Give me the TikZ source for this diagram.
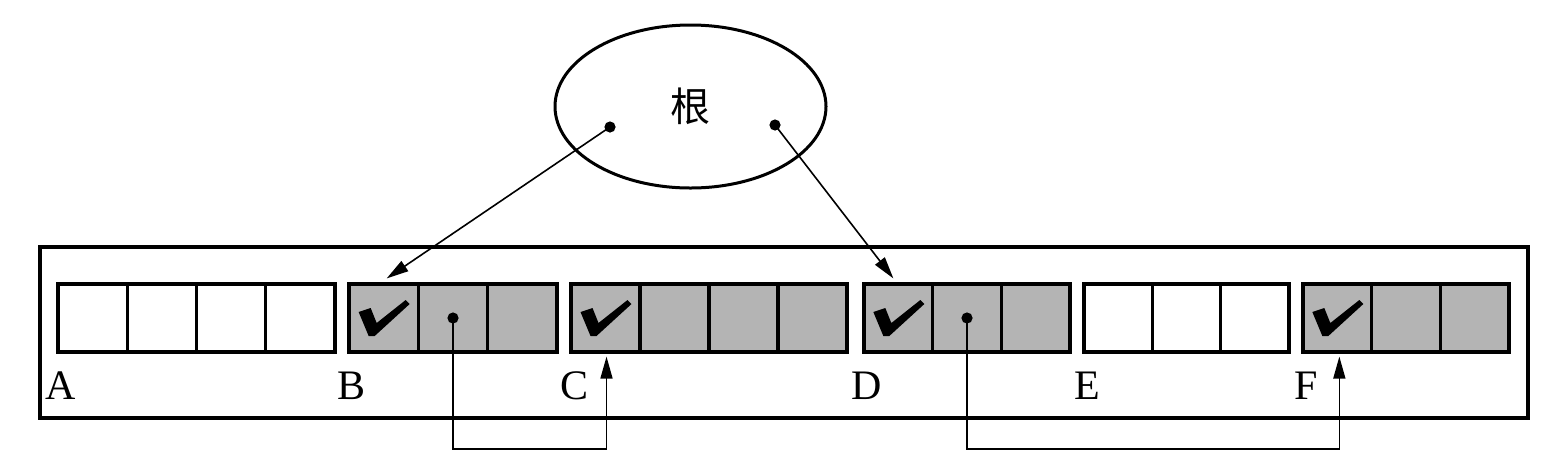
\documentclass[tikz,border=0pt]{standalone}
\usepackage{fontspec}
\setmainfont{Liberation Serif}
\newfontfamily\cjk{Noto Sans CJK SC}
\usetikzlibrary{shapes.geometric,arrows.meta,calc}
\definecolor{cellgray}{RGB}{180,180,180}
\tikzset{
  cell/.style={draw, line width=1.6pt, inner sep=0pt, minimum height=34pt},
  lbl/.style={anchor=base, inner sep=0pt, font=\fontsize{21}{24}\selectfont},
  conn/.style={line width=0.8pt, -{Triangle[length=11pt,width=6pt]}},
  chk/.pic={\fill (-25,-6) -- (-13,-10) -- (-7,5) -- (22,-18) -- (26,-14) -- (-9,18) -- (-15,18) -- cycle;}
}
\begin{document}
\begin{tikzpicture}[x=0.5pt,y=-0.5pt]
\useasboundingbox (0,0) rectangle (1552,462);
% outer frame
\node[draw, line width=1.6pt, inner sep=0pt, minimum width=744pt, minimum height=85.5pt] (frame) at (784,332.5) {};
% blocks
\foreach \n/\l/\k/\w/\f in {A/58/4/69.25/white, B/349/3/69.33/cellgray, C/571/4/69/cellgray, D/864/3/68.67/cellgray, E/1084/3/68.33/white, F/1303/3/68.67/cellgray} {
  \foreach \i in {1,...,\k} {
    \node[cell, fill=\f, minimum width={\w*0.5pt}] (\n\i) at ({\l+(\i-0.5)*\w},318) {};
  }
  \node[lbl] (l\n) at (\l+3,399) {\n};
}
% check marks
\pic at (B1.center) {chk};
\pic at (C1.center) {chk};
\pic at (D1.center) {chk};
\pic at (F1.center) {chk};
% root ellipse
\node[ellipse, draw, line width=1.5pt, inner sep=0pt, minimum width=135.5pt, minimum height=81.5pt, font=\cjk\fontsize{20}{24}\selectfont] (root) at (690.5,106.5) {根};
\coordinate (p1) at (610,127);
\coordinate (p2) at (775,125);
\fill (p1) circle (2.8pt);
\fill (p2) circle (2.8pt);
\draw[conn] (p1) -- ($(B1.north)+(3,-4)$);
\draw[conn] (p2) -- ($(D1.north)+(-5,-4)$);
% pointer links
\fill (B2.center) circle (2.8pt);
\fill (D2.center) circle (2.8pt);
\draw[conn] (B2.center) -- ++(0,131) -| ($(C1.south)+(1,3)$);
\draw[conn] (D2.center) -- ++(0,131) -| ($(F1.south)+(2,3)$);
\end{tikzpicture}
\end{document}
